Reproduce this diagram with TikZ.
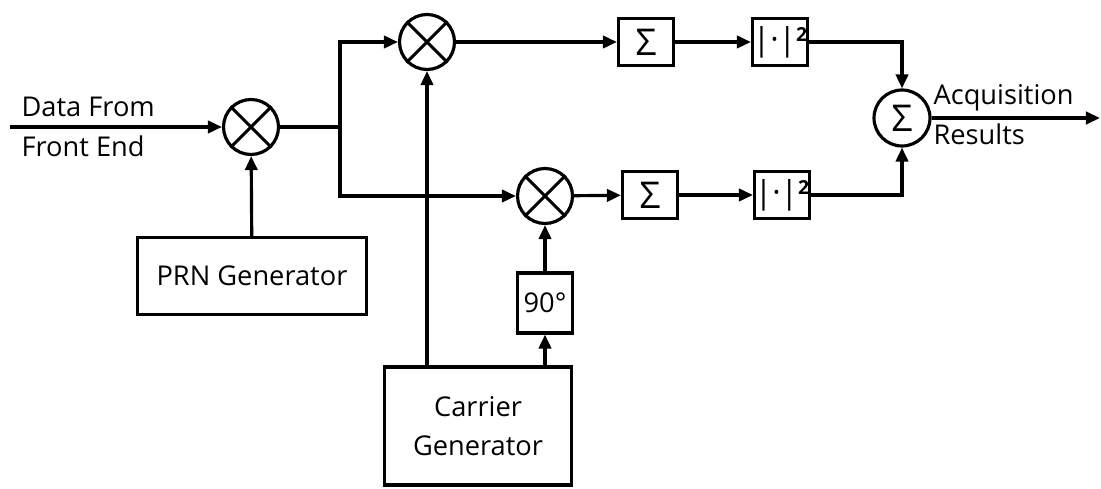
\documentclass[tikz,border=0pt]{standalone}
\usepackage{fontspec}
\setmainfont{Open Sans}
\usetikzlibrary{arrows.meta}
\begin{document}
\begin{tikzpicture}[x=0.02cm,y=-0.02cm,line width=1.8pt,
  >={Triangle[length=8pt,width=7pt]},
  mixer/.style={draw,circle,minimum size=1.1cm,inner sep=0pt},
  adder/.style={draw,circle,minimum size=1.12cm,inner sep=0pt,font=\fontsize{21}{21}\selectfont},
  blk/.style={draw,minimum width=1.1cm,minimum height=0.94cm,inner sep=0pt,font=\fontsize{21}{21}\selectfont},
  gen/.style={draw,inner sep=0pt,align=center,font=\fontsize{15.5}{22}\selectfont},
  lbl/.style={inner sep=0pt,font=\fontsize{15.5}{18}\selectfont}]
\useasboundingbox (0,0) rectangle (1101,489);
% mixers
\node[mixer] (m1) at (251,127) {};
\node[mixer] (m2) at (427,42) {};
\node[mixer] (m3) at (545,196) {};
\foreach \m in {m1,m2,m3}
  \draw (\m.north east) -- (\m.south west) (\m.north west) -- (\m.south east);
% generators
\node[gen,minimum width=4.58cm,minimum height=1.54cm] (prn) at (252,276) {PRN Generator};
\node[gen,minimum width=3.74cm,minimum height=2.36cm] (car) at (478,426) {Carrier\\Generator};
\node[gen,minimum width=1.1cm,minimum height=1.2cm] (ph) at (545,303) {90°};
% integrate and square
\node[blk] (s1) at (646,42) {Σ};
\node[blk] (q1) at (780,42) {\fontsize{18}{18}\selectfont|·|\raisebox{0.5ex}{\fontsize{11}{11}\selectfont\bfseries 2}};
\node[blk] (s2) at (650,195) {Σ};
\node[blk] (q2) at (782,195) {\fontsize{18}{18}\selectfont|·|\raisebox{0.5ex}{\fontsize{11}{11}\selectfont\bfseries 2}};
\node[adder] (a) at (902,118) {Σ};
% labels
\node[lbl,anchor=base west] (d1) at (20,117) {Data From};
\node[lbl,anchor=base west] (d2) at (20,157) {Front End};
\node[lbl,anchor=base west] (r1) at (932,105) {Acquisition};
\node[lbl,anchor=base west] (r2) at (932,145) {Results};
\coordinate (in) at (10,127);
\coordinate (br) at (340,127);
\coordinate (out) at (1100,118);
% connections
\draw[->] (in) -- (m1);
\draw (m1) -- (br);
\draw[->] (br) |- (m2);
\draw[->] (br) |- (m3);
\draw[->] (prn) -- (m1);
\draw[->] (car.north -| m2) -- (m2);
\draw[->] (car.north -| ph) -- (ph);
\draw[->] (ph) -- (m3);
\draw[->] (m2) -- (s1);
\draw[->] (s1) -- (q1);
\draw[->] (m3) -- (s2);
\draw[->] (s2) -- (q2);
\draw[->] (q1) -| (a);
\draw[->] (q2) -| (a);
\draw[->] (a) -- (out);
\end{tikzpicture}
\end{document}
